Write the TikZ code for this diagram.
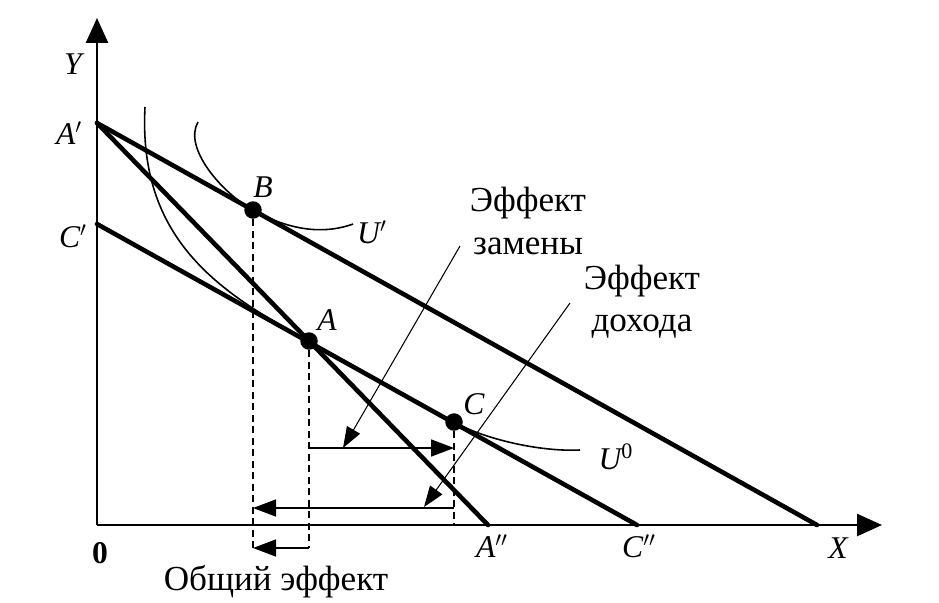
\documentclass[tikz,border=0pt]{standalone}
\usepackage{fontspec}
\setmainfont{Liberation Serif}
\usetikzlibrary{arrows.meta}

\begin{document}
\begin{tikzpicture}[x=0.02cm, y=-0.02cm,
  axis/.style={line width=1.5pt, -{Triangle[length=5mm,width=4.4mm]}},
  budget/.style={line width=2.6pt, line cap=round},
  curve/.style={line width=0.9pt},
  guide/.style={line width=0.9pt, dash pattern=on 1.4mm off 0.9mm},
  arr/.style={line width=0.9pt, -{Triangle[length=4.6mm,width=3.4mm]}},
  lead/.style={line width=0.6pt, -{Triangle[length=4.2mm,width=3mm]}},
  dot/.style={circle, fill, inner sep=0pt, minimum size=3.5mm},
  lbl/.style={font=\fontsize{18}{20}\selectfont\itshape, inner sep=0pt},
  txt/.style={font=\fontsize{20}{24}\selectfont, align=center, inner sep=0pt}]
\useasboundingbox (0,0) rectangle (939,602);
\coordinate (O) at (97,525);
\coordinate (Yend) at (97,18);
\coordinate (Xend) at (882,525);
\coordinate (Ap) at (97,123);
\coordinate (Cp) at (97,224);
\coordinate (App) at (488,525);
\coordinate (Cpp) at (637,525);
\coordinate (Xb) at (817,525);
\coordinate (sub) at (0,448);
\coordinate (inc) at (0,508);
\coordinate (tot) at (0,548);
\draw[axis] (O) -- (Yend);
\draw[axis] (O) -- (Xend);
\draw[budget] (Ap) -- (Xb);
\draw[budget] (Ap) -- (App);
\draw[budget] (Cp) -- (Cpp);
\node[dot] (B) at (253,210) {};
\node[dot] (A) at (309,341) {};
\node[dot] (C) at (454,422) {};
\draw[curve] (198,122) .. controls (183,148) and (222,193) .. (B.center) .. controls (285,228) and (320,236) .. (353,224);
\draw[curve] (145,107) .. controls (138,240) and (220,293) .. (A.center) -- (C.center) .. controls (484,439) and (540,452) .. (580,450);
\draw[guide] (B) -- (B |- tot);
\draw[guide] (A) -- (A |- tot);
\draw[guide] (C) -- (C |- O);
\draw[arr] (A |- sub) -- (C |- sub);
\draw[arr] (C |- inc) -- (B |- inc);
\draw[arr] (A |- tot) -- (B |- tot);
\node[lbl] (ly) at (73,64) {Y};
\node[lbl] (lap) at (69,133) {A$'$};
\node[lbl] (lcp) at (73,236) {C$'$};
\node[lbl] (l0) at (100,553) {\upshape\bfseries 0};
\node[lbl] (lapp) at (492,546) {A$''$};
\node[lbl] (lcpp) at (639,546) {C$''$};
\node[lbl] (lx) at (838,548) {X};
\node[lbl] (lb) at (263,187) {B};
\node[lbl] (la) at (327,320) {A};
\node[lbl] (lc) at (474,404) {C};
\node[lbl] (lu1) at (372,232) {U$'$};
\node[lbl] (lu0) at (616,457) {U\textsuperscript{\upshape 0}};
\node[txt] (zam) at (528,221) {Эффект\\замены};
\node[txt] (doh) at (642,302) {Эффект\\дохода};
\node[txt] (obs) at (276,582) {Общий эффект};
\coordinate (zs) at (460,246);
\coordinate (zt) at (343,448);
\coordinate (ds) at (570,303);
\coordinate (dt) at (424,507);
\draw[lead] (zs) -- (zt);
\draw[lead] (ds) -- (dt);
\end{tikzpicture}
\end{document}
